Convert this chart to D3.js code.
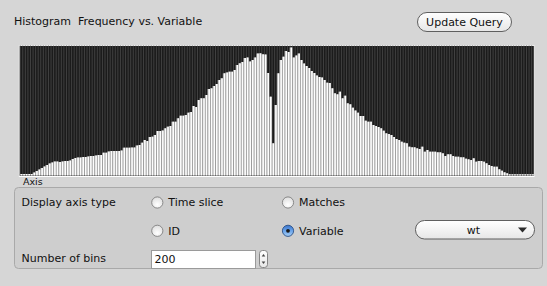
<!DOCTYPE html>
<html>
<head>
<meta charset="utf-8">
<script src="https://cdn.jsdelivr.net/npm/d3@7"></script>
<style>
  html, body { margin: 0; padding: 0; background: #d6d6d6; }
  svg { display: block; }
  text { font-family: "Lucida Grande", "DejaVu Sans", sans-serif; fill: #111; white-space: pre; }
</style>
</head>
<body>
<svg id="chart" width="547" height="286"></svg>
<script>
// ---- Data ----
const title = "Histogram  Frequency vs. Variable";
const buttonLabel = "Update Query";
const axisLabel = "Axis";
const binCount = 200;
const bins = d3.range(binCount);
const frequency = [
  1.5, 1.5, 1.5, 1.5, 1.5, 3, 4.5, 6, 7.5, 9,
  10.5, 12, 13, 14, 14, 13.5, 14, 14.5, 14.5, 15,
  16.5, 17.5, 18, 18, 18.5, 18.5, 19, 19.5, 19.5, 20,
  20.5, 20.5, 22.8, 22.8, 24, 24.5, 24.5, 24.5, 24.5, 25,
  27.8, 27.8, 27.8, 28, 28, 30, 30.5, 32.8, 35.5, 34.5,
  38.5, 38.8, 40.5, 44.5, 44.5, 45, 47.2, 48.8, 49.5, 53.8,
  53.8, 57.2, 59.8, 59.8, 60.5, 62.8, 63.5, 69.5, 68.5, 75.5,
  77.2, 77.2, 80.5, 86.5, 87.2, 89.5, 91.5, 95.5, 97.2, 102.2,
  103, 103.8, 103.8, 105.5, 110.5, 112.2, 113.5, 117.5, 118, 114,
  115.5, 118, 122, 122.2, 121.2, 121, 102.5, 78.8, 32.2, 70.5,
  102.2, 115.5, 118.8, 124.5, 123.5, 128, 118, 120, 122, 115.5,
  112, 109.5, 107.5, 104.5, 102.5, 100, 98.5, 98, 95.5, 92.8,
  92.5, 87.2, 82.2, 81.2, 83.8, 77.2, 79.8, 72.2, 71.2, 67.8,
  65, 62.8, 59.5, 59.5, 54.8, 53.8, 53.8, 50.5, 49.5, 48.5,
  47.2, 44.8, 42.2, 41.5, 40.5, 38.5, 36.5, 35.5, 33.8, 32.8,
  32.2, 28.8, 28.2, 28.2, 27.2, 26.5, 28.8, 23.8, 25.5, 23.8,
  23.8, 23.8, 23.2, 23.2, 22.2, 19.5, 21.2, 21.2, 19.5, 18.8,
  18.8, 18.2, 18.2, 16.8, 16.2, 15.5, 17.2, 13.8, 14.5, 14.5,
  13.8, 12.2, 10.5, 9.5, 8.8, 8.8, 6.2, 4.8, 3.2, 2.2,
  1.2, 1.2, 1.2, 1.2, 1.2, 1.2, 1.2, 1.2, 1.2, 1.2
];
const yMax = 130;
const axisTypes = ["Time slice", "Matches", "ID", "Variable"];
const selectedAxisType = "Variable";
const variableChoice = "wt";
const numberOfBins = "200";

// ---- Drawing ----
const svg = d3.select("#chart");
const defs = svg.append("defs");

const btnGrad = defs.append("linearGradient").attr("id", "btnGrad").attr("x1", 0).attr("y1", 0).attr("x2", 0).attr("y2", 1);
btnGrad.append("stop").attr("offset", "0%").attr("stop-color", "#ffffff");
btnGrad.append("stop").attr("offset", "50%").attr("stop-color", "#f3f3f3");
btnGrad.append("stop").attr("offset", "100%").attr("stop-color", "#e6e6e6");

const radioGrad = defs.append("radialGradient").attr("id", "radioGrad").attr("cx", "50%").attr("cy", "70%").attr("r", "60%");
radioGrad.append("stop").attr("offset", "0%").attr("stop-color", "#ffffff");
radioGrad.append("stop").attr("offset", "100%").attr("stop-color", "#e2e2e2");

const selGrad = defs.append("linearGradient").attr("id", "selGrad").attr("x1", 0).attr("y1", 0).attr("x2", 0).attr("y2", 1);
selGrad.append("stop").attr("offset", "0%").attr("stop-color", "#3a73c9");
selGrad.append("stop").attr("offset", "50%").attr("stop-color", "#6aa4ea");
selGrad.append("stop").attr("offset", "100%").attr("stop-color", "#a8d0f6");

// Title
svg.append("text").attr("x", 14).attr("y", 24.5).attr("font-size", 11)
  .attr("xml:space", "preserve").text(title);

// Update Query button
svg.append("rect").attr("x", 417.5).attr("y", 12.5).attr("width", 94).attr("height", 19).attr("rx", 9.5)
  .attr("fill", "url(#btnGrad)").attr("stroke", "#5f5f5f").attr("stroke-width", 1);
svg.append("text").attr("x", 464.5).attr("y", 25.5).attr("text-anchor", "middle").attr("font-size", 11).text(buttonLabel);

// Histogram
const x = d3.scaleBand().domain(bins).range([19.8, 533.8]).padding(0);
const y = d3.scaleLinear().domain([0, yMax]).range([175.5, 45.5]);

const plot = svg.append("g");
plot.append("rect").attr("x", 19.3).attr("y", 45.5).attr("width", 515).attr("height", 131)
  .attr("fill", "#1b1b1b").attr("stroke", "#eeeeee").attr("stroke-width", 1);

// column separators in background
plot.selectAll("line.sep").data(bins).join("line").attr("class", "sep")
  .attr("x1", d => x(d) + 0.4).attr("x2", d => x(d) + 0.4)
  .attr("y1", y(yMax)).attr("y2", y(0))
  .attr("stroke", "#4a4a4a").attr("stroke-width", 0.8);

plot.selectAll("rect.bar").data(bins).join("rect").attr("class", "bar")
  .attr("x", d => x(d))
  .attr("width", x.bandwidth())
  .attr("y", d => y(frequency[d]))
  .attr("height", d => y(0) - y(frequency[d]))
  .attr("fill", "#9b9b9b");
plot.selectAll("rect.barcore").data(bins).join("rect").attr("class", "barcore")
  .attr("x", d => x(d) + 0.9)
  .attr("width", x.bandwidth() - 0.9)
  .attr("y", d => y(frequency[d]))
  .attr("height", d => y(0) - y(frequency[d]))
  .attr("fill", "#fdfdfd");

// bottom white line
plot.append("line").attr("x1", 19.3).attr("x2", 534.3).attr("y1", 176.5).attr("y2", 176.5)
  .attr("stroke", "#ffffff").attr("stroke-width", 1.2);

svg.append("text").attr("x", 23).attr("y", 185).attr("font-size", 9.5).text(axisLabel);

// Group box
svg.append("rect").attr("x", 14.5).attr("y", 187.5).attr("width", 528).attr("height", 81).attr("rx", 4)
  .attr("fill", "#cecece").attr("stroke", "#a9a9a9").attr("stroke-width", 1);

svg.append("text").attr("x", 21.5).attr("y", 206).attr("font-size", 11).text("Display axis type");
svg.append("text").attr("x", 21.5).attr("y", 262).attr("font-size", 11).text("Number of bins");

const radioPos = {
  "Time slice": [157.3, 202.5],
  "Matches": [288, 202.5],
  "ID": [157.3, 230.8],
  "Variable": [288, 230.8]
};
axisTypes.forEach(t => {
  const [cx, cy] = radioPos[t];
  const sel = t === selectedAxisType;
  svg.append("circle").attr("cx", cx).attr("cy", cy).attr("r", 5.6)
    .attr("fill", sel ? "url(#selGrad)" : "url(#radioGrad)")
    .attr("stroke", sel ? "#2a4f86" : "#7f7f7f").attr("stroke-width", 0.9);
  if (sel) svg.append("circle").attr("cx", cx).attr("cy", cy).attr("r", 1.9).attr("fill", "#1a1a1a");
  svg.append("text").attr("x", cx + 11).attr("y", cy + 3.8).attr("font-size", 11).text(t);
});

// Dropdown
svg.append("rect").attr("x", 415.5).attr("y", 220.5).attr("width", 119).attr("height", 18.5).attr("rx", 9)
  .attr("fill", "url(#btnGrad)").attr("stroke", "#5f5f5f").attr("stroke-width", 1);
svg.append("text").attr("x", 473.5).attr("y", 234).attr("text-anchor", "middle").attr("font-size", 11).text(variableChoice);
svg.append("path").attr("d", "M518,227.5 L527,227.5 L522.5,232.5 Z").attr("fill", "#2b2b2b");

// Number field
svg.append("rect").attr("x", 151.5).attr("y", 250.5).attr("width", 104).attr("height", 18)
  .attr("fill", "#ffffff").attr("stroke", "#9a9a9a").attr("stroke-width", 1);
svg.append("text").attr("x", 154.5).attr("y", 263).attr("font-size", 11).text(numberOfBins);

// Stepper
svg.append("rect").attr("x", 259.5).attr("y", 250.5).attr("width", 8).attr("height", 17).attr("rx", 3)
  .attr("fill", "url(#btnGrad)").attr("stroke", "#7a7a7a").attr("stroke-width", 0.9);
svg.append("path").attr("d", "M261.7,256.5 L265.3,256.5 L263.5,254 Z").attr("fill", "#444");
svg.append("path").attr("d", "M261.7,261.5 L265.3,261.5 L263.5,264 Z").attr("fill", "#444");
</script>
</body>
</html>
